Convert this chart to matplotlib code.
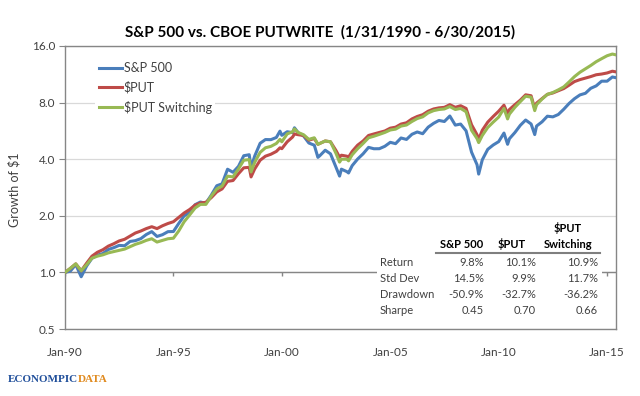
import matplotlib
matplotlib.use('Agg')
import matplotlib.pyplot as plt
import pandas as pd
from matplotlib.patches import Rectangle
from matplotlib.ticker import NullLocator

plt.rcParams['font.family'] = ['Lato', 'DejaVu Sans']

# month of each reading (month-end values, growth of $1 from 1/31/1990)
months = [
    "1990-01", "1990-04", "1990-07", "1990-10",
    "1991-01", "1991-04", "1991-07", "1991-10",
    "1992-01", "1992-04", "1992-07", "1992-10",
    "1993-01", "1993-04", "1993-07", "1993-10",
    "1994-01", "1994-04", "1994-07", "1994-10",
    "1995-01", "1995-04", "1995-07", "1995-10",
    "1996-01", "1996-04", "1996-07", "1996-10",
    "1997-01", "1997-04", "1997-07", "1997-10",
    "1998-01", "1998-04", "1998-07", "1998-08", "1998-10",
    "1999-01", "1999-04", "1999-07", "1999-10", "1999-12",
    "2000-01", "2000-04", "2000-07", "2000-08", "2000-10",
    "2001-01", "2001-04", "2001-07", "2001-09", "2001-10",
    "2002-01", "2002-04", "2002-07", "2002-09", "2002-10",
    "2003-01", "2003-02", "2003-04", "2003-07", "2003-10",
    "2004-01", "2004-04", "2004-07", "2004-10",
    "2005-01", "2005-04", "2005-07", "2005-10",
    "2006-01", "2006-04", "2006-07", "2006-10",
    "2007-01", "2007-04", "2007-07", "2007-10",
    "2008-01", "2008-04", "2008-07", "2008-10",
    "2009-01", "2009-02", "2009-04", "2009-07", "2009-10",
    "2010-01", "2010-04", "2010-06", "2010-07", "2010-10",
    "2011-01", "2011-04", "2011-07", "2011-09", "2011-10",
    "2012-01", "2012-04", "2012-07", "2012-10",
    "2013-01", "2013-04", "2013-07", "2013-10",
    "2014-01", "2014-04", "2014-07", "2014-10",
    "2015-01", "2015-04", "2015-06",
]

sp500 = [
    1.00, 1.015, 1.10, 0.948,
    1.082, 1.189, 1.235, 1.26,
    1.324, 1.353, 1.392, 1.386,
    1.461, 1.475, 1.512, 1.59,
    1.648, 1.553, 1.587, 1.647,
    1.65, 1.82, 1.998, 2.084,
    2.291, 2.368, 2.33, 2.58,
    2.891, 2.958, 3.538, 3.407,
    3.664, 4.174, 4.225, 3.613, 4.155,
    4.863, 5.088, 5.082, 5.22, 5.64,
    5.36, 5.60, 5.537, 5.878, 5.542,
    5.315, 4.878, 4.748, 4.091, 4.172,
    4.465, 4.272, 3.631, 3.253, 3.541,
    3.434, 3.379, 3.696, 4.008, 4.273,
    4.624, 4.546, 4.549, 4.685,
    4.918, 4.839, 5.187, 5.096,
    5.428, 5.583, 5.465, 5.922,
    6.207, 6.429, 6.346, 6.789,
    6.073, 6.151, 5.661, 4.359,
    3.741, 3.333, 3.972, 4.515, 4.761,
    4.961, 5.51, 4.801, 5.142, 5.545,
    6.059, 6.463, 6.157, 5.408, 6.003,
    6.321, 6.773, 6.718, 6.914,
    7.376, 7.912, 8.395, 8.79,
    8.968, 9.528, 9.819, 10.4,
    10.4, 10.95, 10.85,
]

put = [
    1.00, 1.05, 1.11, 1.02,
    1.12, 1.22, 1.28, 1.32,
    1.38, 1.42, 1.47, 1.50,
    1.56, 1.62, 1.66, 1.71,
    1.75, 1.71, 1.77, 1.82,
    1.86, 1.96, 2.07, 2.16,
    2.28, 2.34, 2.36, 2.50,
    2.68, 2.78, 3.05, 3.08,
    3.35, 3.60, 3.62, 3.22, 3.55,
    3.95, 4.15, 4.25, 4.40, 4.60,
    4.55, 4.95, 5.25, 5.45, 5.40,
    5.35, 5.05, 5.15, 4.80, 4.85,
    5.00, 4.95, 4.45, 4.10, 4.20,
    4.15, 4.10, 4.40, 4.75, 5.00,
    5.35, 5.45, 5.55, 5.65,
    5.85, 5.92, 6.15, 6.25,
    6.55, 6.75, 6.90, 7.20,
    7.40, 7.50, 7.55, 7.80,
    7.55, 7.70, 7.45, 6.10,
    5.40, 5.10, 5.70, 6.30, 6.75,
    7.20, 7.75, 7.00, 7.35, 7.80,
    8.25, 8.80, 8.70, 7.45, 7.95,
    8.40, 8.85, 9.00, 9.25,
    9.50, 9.90, 10.35, 10.60,
    10.80, 11.00, 11.25, 11.35,
    11.50, 11.75, 11.65,
]

put_switching = [
    1.00, 1.05, 1.11, 1.02,
    1.10, 1.19, 1.22, 1.24,
    1.27, 1.29, 1.31, 1.33,
    1.37, 1.41, 1.44, 1.48,
    1.51, 1.45, 1.48, 1.51,
    1.52, 1.66, 1.86, 2.02,
    2.20, 2.30, 2.30, 2.55,
    2.78, 2.88, 3.25, 3.22,
    3.55, 3.95, 3.98, 3.42, 3.85,
    4.35, 4.60, 4.68, 4.85, 5.10,
    4.95, 5.45, 5.60, 5.80, 5.55,
    5.40, 5.10, 5.20, 4.80, 4.85,
    5.00, 4.95, 4.30, 3.86, 4.00,
    4.00, 3.92, 4.22, 4.55, 4.85,
    5.20, 5.30, 5.42, 5.55,
    5.72, 5.78, 6.00, 6.08,
    6.35, 6.58, 6.72, 7.05,
    7.25, 7.35, 7.40, 7.62,
    7.35, 7.45, 7.15, 5.70,
    5.15, 4.90, 5.35, 5.90, 6.30,
    6.70, 7.45, 6.55, 6.95, 7.55,
    8.10, 8.65, 8.55, 7.25, 7.80,
    8.35, 8.85, 9.05, 9.35,
    9.70, 10.30, 11.00, 11.60,
    12.10, 12.60, 13.20, 13.70,
    14.20, 14.50, 14.35,
]

x_tick_dates = ["1990-01-31", "1995-01-31", "2000-01-31", "2005-01-31", "2010-01-31", "2015-01-31"]
x_tick_labels = ["Jan-90", "Jan-95", "Jan-00", "Jan-05", "Jan-10", "Jan-15"]
y_ticks = [0.5, 1.0, 2.0, 4.0, 8.0, 16.0]

stat_cols = ["S&P 500", "$PUT", "$PUT\nSwitching"]
stat_rows = ["Return", "Std Dev", "Drawdown", "Sharpe"]
stat_vals = [
    ["9.8%", "10.1%", "10.9%"],
    ["14.5%", "9.9%", "11.7%"],
    ["-50.9%", "-32.7%", "-36.2%"],
    ["0.45", "0.70", "0.66"],
]

W, H = 640, 396
txt = '#404040'
edge = '#868686'

fig = plt.figure(figsize=(W / 100, H / 100), dpi=100)
ax = fig.add_axes([65 / W, 1 - 329 / H, 551 / W, 283 / H])

dates = pd.to_datetime(months) + pd.offsets.MonthEnd(0)
ax.plot(dates, sp500, color='#4A7EBB', lw=2.2, label='S&P 500', zorder=3)
ax.plot(dates, put, color='#BE4B48', lw=2.2, label='$PUT', zorder=3)
ax.plot(dates, put_switching, color='#98B954', lw=2.2, label='$PUT Switching', zorder=3)

ax.set_yscale('log', base=2)
ax.set_ylim(0.5, 16)
ax.yaxis.set_minor_locator(NullLocator())
ax.set_yticks(y_ticks)
ax.set_yticklabels(['%.1f' % v for v in y_ticks])

xt = pd.to_datetime(x_tick_dates)
ax.set_xlim(pd.Timestamp('1990-01-31'), pd.Timestamp('2015-06-30'))
ax.set_xticks(xt)
ax.set_xticklabels(x_tick_labels)

ax.tick_params(axis='x', length=0, pad=13, labelsize=8.5, labelcolor=txt)
ax.tick_params(axis='y', length=4, color=edge, labelsize=8.5, labelcolor=txt, pad=3)
ax.grid(axis='y', color='#D9D9D9', lw=0.9)
ax.set_axisbelow(True)
for s in ax.spines.values():
    s.set_color(edge)
    s.set_linewidth(1.0)

# horizontal axis crosses at 1.0
ax.axhline(1.0, color=edge, lw=1.0, zorder=2)
ax.vlines(xt, 0.952, 1.0, colors=edge, lw=1.0, zorder=2)

leg = ax.legend(loc='upper left', bbox_to_anchor=(0.054, 0.955), borderaxespad=0,
                fontsize=9, handlelength=1.9, handletextpad=0.1, labelspacing=0.55,
                borderpad=0.3, frameon=True, fancybox=False)
leg.get_frame().set_facecolor('white')
leg.get_frame().set_edgecolor('none')
leg.get_frame().set_alpha(1)
for t in leg.get_texts():
    t.set_color(txt)

fig.text(320 / W, 1 - 32 / H, 'S&P 500 vs. CBOE PUTWRITE  (1/31/1990 - 6/30/2015)',
         ha='center', va='center', fontsize=11, fontweight='bold', color='black')
fig.text(14 / W, 1 - 190 / H, 'Growth of $1', rotation=90, ha='center', va='center',
         fontsize=9, color=txt)

# stats table
fig.patches.append(Rectangle((377 / W, 1 - 320 / H), (602 - 377) / W, (320 - 222) / H,
                             transform=fig.transFigure, facecolor='white',
                             edgecolor='none', zorder=1))
col_centers = [462, 512, 568]
col_rights = [484, 536, 598]
row_y = [262, 278, 294, 310]
for c, name in zip(col_centers, stat_cols):
    fig.text(c / W, 1 - 250 / H, name, ha='center', va='bottom', fontsize=8,
             fontweight='bold', color='black', linespacing=1.5, zorder=3)
fig.lines.append(plt.Line2D([436 / W, 600 / W], [1 - 253 / H, 1 - 253 / H],
                            transform=fig.transFigure, color='#7F7F7F', lw=1.5, zorder=3))
for y, rname, vals in zip(row_y, stat_rows, stat_vals):
    fig.text(380 / W, 1 - y / H, rname, ha='left', va='center', fontsize=8,
             color=txt, zorder=3)
    for r, v in zip(col_rights, vals):
        fig.text(r / W, 1 - y / H, v, ha='right', va='center', fontsize=8,
                 color=txt, zorder=3)

# logo
logo1 = fig.text(8 / W, 1 - 379 / H, 'ECONOMPIC', ha='left', va='center', fontsize=8,
                 fontweight='bold', family='Liberation Serif', color='#1F4E9A')
r = fig.canvas.get_renderer()
bb = logo1.get_window_extent(renderer=r)
fig.text(bb.x1 / W, 1 - 379 / H, 'DATA', ha='left', va='center', fontsize=8,
         fontweight='bold', family='Liberation Serif', color='#E08A1E')

fig.savefig('out.png', dpi=100)
